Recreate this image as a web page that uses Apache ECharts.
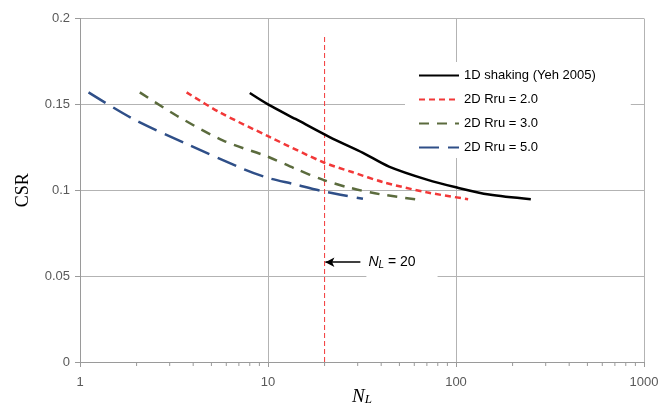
<!DOCTYPE html>
<html>
<head>
<meta charset="utf-8">
<script src="https://cdn.jsdelivr.net/npm/echarts@6/dist/echarts.min.js"></script>
<style>
  html, body { margin: 0; padding: 0; background: #fff; }
  #chart { width: 659px; height: 410px; }
</style>
</head>
<body>
<div id="chart"></div>
<script>
// values
const nl1D = [8, 10, 14, 21.4, 32, 44, 70, 100, 150, 250];
const csr1D = [0.1566, 0.150, 0.1415, 0.1308, 0.1218, 0.1138, 0.1062, 0.1017, 0.0975, 0.0948];

const nlR2 = [3.69, 5.55, 10, 19.7, 28, 41.1, 69.8, 116];
const csrR2 = [0.157, 0.1453, 0.1315, 0.1163, 0.1106, 0.1047, 0.0988, 0.0948];

const nlR3 = [2.08, 3.27, 5.78, 10, 14, 19.7, 27.3, 39.4, 64.5];
const csrR3 = [0.157, 0.1434, 0.1289, 0.1195, 0.1125, 0.106, 0.1014, 0.0977, 0.0944];

const nlR5 = [1.11, 1.92, 3.69, 7.39, 10, 13.6, 19.7, 32];
const csrR5 = [0.157, 0.1415, 0.127, 0.1124, 0.1072, 0.1037, 0.0994, 0.095];

const markNL = 20;
const markTop = 0.191;
const arrowFrom = 31;
const arrowY = 0.0581;

const minorTicks = [2, 3, 4, 5, 6, 7, 8, 9, 20, 30, 40, 50, 60, 70, 80, 90,
  200, 300, 400, 500, 600, 700, 800, 900];

const seriesNames = ["1D shaking (Yeh 2005)", "2D Rru = 2.0", "2D Rru = 3.0", "2D Rru = 5.0"];

function pairs(xs, ys) {
  return xs.map((x, i) => [x, ys[i]]);
}

const gridColor = "#b3b3b3";
const labelFont = "Liberation Sans";

const chart = echarts.init(document.getElementById("chart"), null, { renderer: "canvas" });

function curve(name, xs, ys, color, type, z) {
  return {
    name: name,
    type: "line",
    data: pairs(xs, ys),
    smooth: 0.3,
    showSymbol: false,
    symbol: "none",
    lineStyle: { color: color, width: 2.5, type: type },
    itemStyle: { color: color },
    z: z
  };
}

const option = {
  animation: false,
  grid: { left: 80, right: 15, top: 18.5, bottom: 48, outerBoundsMode: "none", containLabel: false },
  legend: {
    data: seriesNames,
    orient: "vertical",
    left: 405,
    top: 62,
    itemWidth: 40,
    itemHeight: 14,
    itemGap: 11,
    padding: [7, 35, 4, 13],
    backgroundColor: "#fff",
    itemStyle: { opacity: 0 },
    textStyle: { fontFamily: labelFont, fontSize: 13, color: "#000" },
    selectedMode: false
  },
  xAxis: {
    type: "log",
    logBase: 10,
    min: 1,
    max: 1000,
    name: "{n|N}{s|L}",
    nameLocation: "middle",
    nameGap: 25,
    nameMoveOverlap: false,
    nameTextStyle: {
      rich: {
        n: { fontFamily: "Liberation Serif", fontStyle: "italic", fontSize: 19, color: "#000" },
        s: { fontFamily: "Liberation Serif", fontStyle: "italic", fontSize: 13, color: "#000", verticalAlign: "bottom", padding: [5, 0, 0, 0] }
      }
    },
    axisLine: { lineStyle: { color: "#9a9a9a", width: 1 } },
    axisTick: { show: true, length: 5, lineStyle: { color: "#9a9a9a" } },
    axisLabel: {
      fontFamily: labelFont, fontSize: 13, color: "#595959", margin: 14,
      formatter: v => String(Math.round(v))
    },
    splitLine: { show: true, lineStyle: { color: gridColor, width: 1 } },
    minorTick: { show: false }
  },
  yAxis: {
    type: "value",
    min: 0,
    max: 0.2,
    interval: 0.05,
    name: "CSR",
    nameLocation: "middle",
    nameGap: 48,
    nameMoveOverlap: false,
    nameTextStyle: { fontFamily: "Liberation Serif", fontSize: 18, color: "#000" },
    axisLine: { show: true, lineStyle: { color: "#9a9a9a", width: 1 } },
    axisTick: { show: true, length: 5, lineStyle: { color: "#9a9a9a" } },
    axisLabel: { fontFamily: labelFont, fontSize: 13, color: "#595959", margin: 10 },
    splitLine: { show: true, lineStyle: { color: gridColor, width: 1 } }
  },
  series: [
    curve(seriesNames[0], nl1D, csr1D, "#000", "solid", 5),
    curve(seriesNames[1], nlR2, csrR2, "#f23838", [6, 4], 4),
    curve(seriesNames[2], nlR3, csrR3, "#5b6b3d", [10, 8], 4),
    curve(seriesNames[3], nlR5, csrR5, "#2f4f88", [20, 9], 4),
    {
      name: "NL20",
      type: "line",
      data: [[markNL, 0], [markNL, markTop]],
      showSymbol: false,
      symbol: "none",
      lineStyle: { color: "#f23838", width: 1, type: [5, 3] },
      z: 3,
      silent: true,
      markLine: {
        silent: true,
        animation: false,
        symbol: ["arrow", "none"],
        symbolSize: [7, 9],
        lineStyle: { color: "#000", width: 1.5, type: "solid" },
        label: {
          show: true,
          position: "end",
          distance: 6,
          formatter: "{n|N}{s|L}{t| = 20}",
          backgroundColor: "#fff",
          padding: [9, 22, 9, 2],
          rich: {
            n: { fontFamily: labelFont, fontStyle: "italic", fontSize: 14, color: "#000" },
            s: { fontFamily: labelFont, fontStyle: "italic", fontSize: 10, color: "#000", verticalAlign: "bottom", padding: [6, 0, 0, 0] },
            t: { fontFamily: labelFont, fontSize: 14, color: "#000" }
          }
        },
        data: [[
          { coord: [markNL * 1.01, arrowY] },
          { coord: [arrowFrom, arrowY] }
        ]]
      }
    },
    {
      name: "minorTicks",
      type: "custom",
      silent: true,
      clip: false,
      data: minorTicks.map(v => [v, 0]),
      encode: { x: 0, y: 1 },
      renderItem: function (params, api) {
        const p = api.coord([api.value(0), 0]);
        return {
          type: "line",
          shape: { x1: p[0], y1: p[1], x2: p[0], y2: p[1] + 4 },
          style: { stroke: "#9a9a9a", lineWidth: 1 }
        };
      }
    }
  ]
};

chart.setOption(option);
</script>
</body>
</html>
